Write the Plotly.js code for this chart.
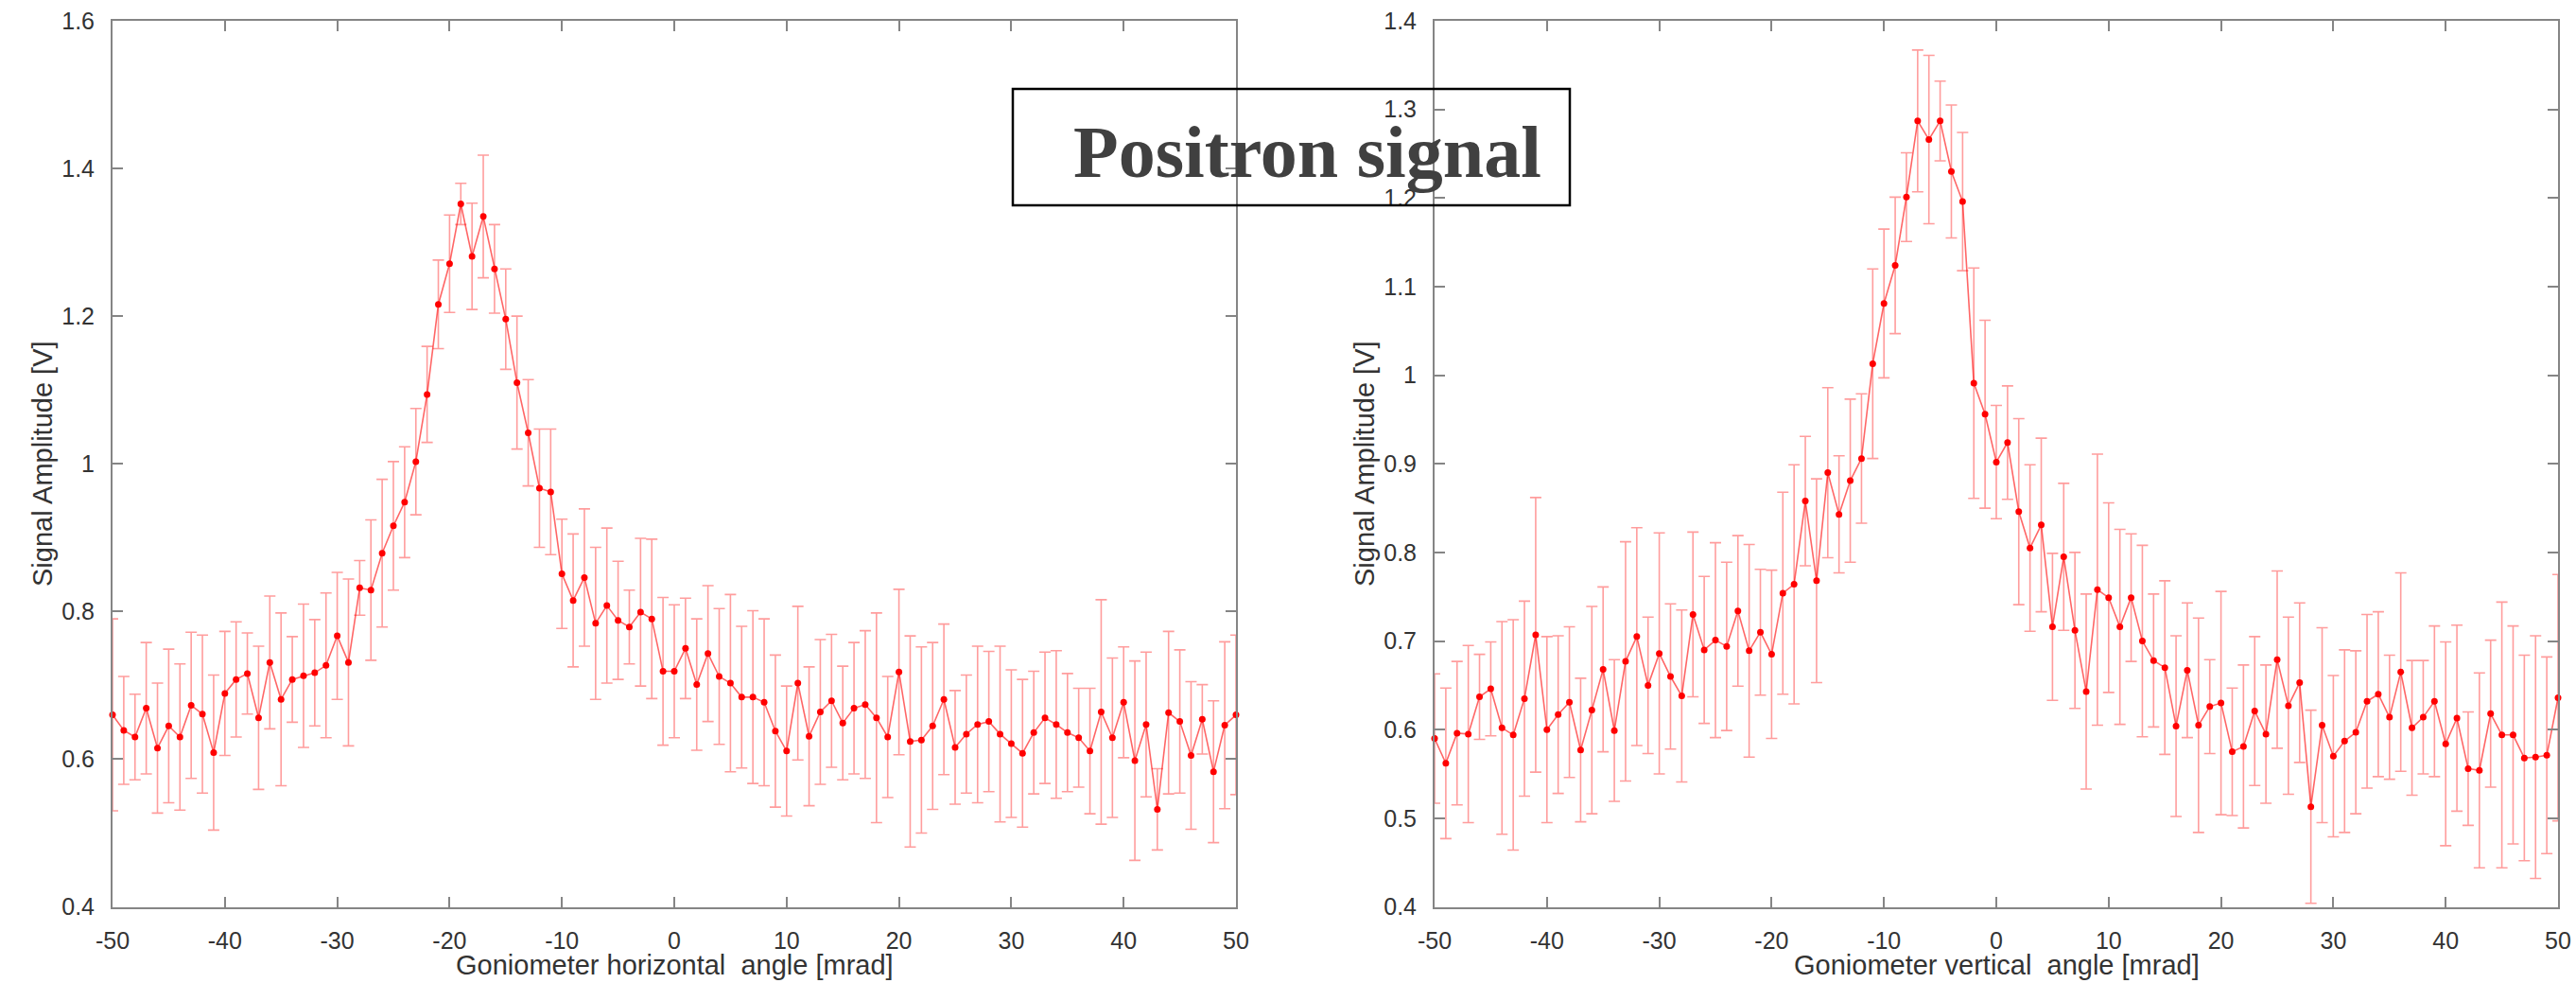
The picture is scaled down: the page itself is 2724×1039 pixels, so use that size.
<!DOCTYPE html>
<html>
<head>
<meta charset="utf-8">
<script src="https://cdn.plot.ly/plotly-3.0.1.min.js"></script>
<style>html,body{margin:0;padding:0;background:#fff;}#chart{width:2724px;height:1039px;}</style>
</head>
<body>
<div id="chart"></div>
<script>
// Goniometer angle [mrad]
const angles = [-50,-49,-48,-47,-46,-45,-44,-43,-42,-41,-40,-39,-38,-37,-36,-35,-34,-33,-32,-31,-30,-29,-28,-27,-26,-25,-24,-23,-22,-21,-20,-19,-18,-17,-16,-15,-14,-13,-12,-11,-10,-9,-8,-7,-6,-5,-4,-3,-2,-1,0,1,2,3,4,5,6,7,8,9,10,11,12,13,14,15,16,17,18,19,20,21,22,23,24,25,26,27,28,29,30,31,32,33,34,35,36,37,38,39,40,41,42,43,44,45,46,47,48,49,50];

// Horizontal scan: signal amplitude [V] and error
const horizSignal = [0.660,0.639,0.630,0.669,0.615,0.645,0.630,0.673,0.661,0.609,0.689,0.708,0.716,0.656,0.731,0.681,0.708,0.713,0.717,0.727,0.767,0.731,0.832,0.829,0.879,0.916,0.948,1.003,1.094,1.216,1.271,1.352,1.281,1.335,1.264,1.196,1.110,1.042,0.967,0.962,0.851,0.815,0.846,0.784,0.808,0.788,0.779,0.799,0.790,0.719,0.719,0.750,0.701,0.743,0.712,0.703,0.684,0.684,0.677,0.638,0.611,0.703,0.631,0.664,0.679,0.649,0.669,0.674,0.656,0.630,0.718,0.624,0.626,0.645,0.681,0.616,0.634,0.647,0.651,0.634,0.621,0.608,0.636,0.656,0.647,0.636,0.629,0.611,0.664,0.629,0.677,0.598,0.647,0.532,0.663,0.651,0.605,0.654,0.583,0.646,0.660];
const horizError = [0.130,0.073,0.058,0.089,0.088,0.104,0.099,0.099,0.107,0.105,0.084,0.078,0.055,0.097,0.090,0.117,0.058,0.097,0.072,0.098,0.086,0.113,0.037,0.095,0.100,0.087,0.075,0.072,0.065,0.060,0.066,0.028,0.072,0.083,0.060,0.068,0.090,0.072,0.080,0.085,0.074,0.090,0.093,0.103,0.105,0.080,0.050,0.100,0.108,0.100,0.090,0.068,0.089,0.092,0.092,0.120,0.096,0.117,0.113,0.103,0.088,0.104,0.094,0.098,0.090,0.077,0.089,0.100,0.142,0.082,0.112,0.143,0.126,0.113,0.102,0.077,0.080,0.106,0.095,0.119,0.100,0.100,0.083,0.089,0.100,0.080,0.067,0.085,0.152,0.108,0.075,0.135,0.098,0.055,0.110,0.097,0.100,0.047,0.096,0.113,0.108];

// Vertical scan: signal amplitude [V] and error
const vertSignal = [0.590,0.562,0.596,0.595,0.637,0.646,0.602,0.594,0.635,0.707,0.600,0.617,0.631,0.577,0.622,0.668,0.599,0.677,0.705,0.650,0.686,0.660,0.638,0.730,0.690,0.701,0.694,0.734,0.689,0.710,0.685,0.754,0.764,0.858,0.768,0.890,0.843,0.881,0.906,1.013,1.081,1.124,1.201,1.287,1.266,1.287,1.230,1.196,0.991,0.956,0.902,0.924,0.846,0.805,0.831,0.716,0.795,0.712,0.643,0.758,0.749,0.716,0.749,0.700,0.678,0.670,0.604,0.667,0.605,0.626,0.630,0.575,0.581,0.621,0.595,0.679,0.627,0.653,0.513,0.605,0.570,0.587,0.597,0.632,0.640,0.614,0.665,0.602,0.614,0.632,0.584,0.613,0.556,0.554,0.618,0.594,0.594,0.568,0.569,0.571,0.636];
const vertError = [0.073,0.085,0.081,0.100,0.048,0.053,0.120,0.130,0.110,0.155,0.105,0.089,0.085,0.081,0.117,0.093,0.080,0.135,0.123,0.077,0.136,0.082,0.097,0.093,0.083,0.110,0.095,0.085,0.120,0.071,0.095,0.114,0.135,0.073,0.115,0.096,0.066,0.092,0.073,0.107,0.084,0.077,0.050,0.080,0.095,0.045,0.075,0.078,0.130,0.106,0.064,0.064,0.105,0.094,0.098,0.083,0.083,0.088,0.110,0.153,0.107,0.110,0.072,0.108,0.075,0.098,0.102,0.076,0.121,0.053,0.126,0.072,0.092,0.084,0.078,0.100,0.100,0.090,0.109,0.110,0.091,0.103,0.092,0.098,0.093,0.070,0.112,0.076,0.064,0.085,0.115,0.105,0.064,0.110,0.083,0.150,0.123,0.116,0.137,0.111,0.139];

// Tick labels
const xTickVals = [-50,-40,-30,-20,-10,0,10,20,30,40,50];
const xTickText = ['-50','-40','-30','-20','-10','0','10','20','30','40','50'];
const yLeftTickVals = [0.4,0.6,0.8,1.0,1.2,1.4,1.6];
const yLeftTickText = ['0.4','0.6','0.8','1','1.2','1.4','1.6'];
const yRightTickVals = [0.4,0.5,0.6,0.7,0.8,0.9,1.0,1.1,1.2,1.3,1.4];
const yRightTickText = ['0.4','0.5','0.6','0.7','0.8','0.9','1','1.1','1.2','1.3','1.4'];

// Text
const chartTitle = 'Positron signal';
const xTitleLeft = 'Goniometer horizontal\u00a0 angle [mrad]';
const xTitleRight = 'Goniometer vertical\u00a0 angle [mrad]';
const yTitle = 'Signal Amplitude [V]';

const W = 2724, H = 1039;
const px = v => v / W;
const py = v => 1 - v / H;

function trace(y, err, xa, ya) {
  return {
    type: 'scatter', mode: 'lines+markers',
    x: angles, y: y, xaxis: xa, yaxis: ya,
    cliponaxis: false,
    line: {color: 'rgba(255,0,0,0.6)', width: 1.6},
    marker: {color: 'rgb(255,0,0)', size: 7},
    error_y: {type: 'data', array: err, visible: true, color: 'rgba(255,60,60,0.5)', thickness: 1.6, width: 6},
    hoverinfo: 'x+y'
  };
}

const tickFont = {family: 'Liberation Sans, Arial, sans-serif', size: 25, color: '#333'};
const axisCommon = {
  showline: true, linecolor: '#858585', linewidth: 2, mirror: 'allticks',
  ticks: 'inside', ticklen: 11, tickwidth: 2, tickcolor: '#858585',
  showgrid: false, zeroline: false, tickfont: tickFont, fixedrange: true
};

const yDom = [1 - 958.5 / H, 1 - 22 / H];

const layout = {
  width: W, height: H,
  margin: {l: 0, r: 0, t: 0, b: 0, pad: 0},
  paper_bgcolor: '#fff', plot_bgcolor: '#fff',
  showlegend: false,
  xaxis: Object.assign({}, axisCommon, {domain: [px(119), px(1307)], range: [-50, 50], anchor: 'y', tickmode: 'array', tickvals: xTickVals, ticktext: xTickText, ticklabelstandoff: 12}),
  yaxis: Object.assign({}, axisCommon, {domain: yDom, range: [0.4, 1.6], anchor: 'x', tickmode: 'array', tickvals: yLeftTickVals, ticktext: yLeftTickText, ticklabelstandoff: 12}),
  xaxis2: Object.assign({}, axisCommon, {domain: [px(1517), px(2705)], range: [-50, 50], anchor: 'y2', tickmode: 'array', tickvals: xTickVals, ticktext: xTickText, ticklabelstandoff: 12}),
  yaxis2: Object.assign({}, axisCommon, {domain: yDom, range: [0.4, 1.4], anchor: 'x2', tickmode: 'array', tickvals: yRightTickVals, ticktext: yRightTickText, ticklabelstandoff: 12}),
  shapes: [{
    type: 'rect', xref: 'paper', yref: 'paper',
    x0: px(1071), x1: px(1660), y0: py(217), y1: py(94),
    line: {color: '#000', width: 2.5}, fillcolor: 'rgba(0,0,0,0)', layer: 'above'
  }],
  annotations: [
    {xref: 'paper', yref: 'paper', x: px(1133), y: py(160), xanchor: 'left', yanchor: 'middle', showarrow: false,
     text: '<b>' + chartTitle + '</b>', font: {family: 'Liberation Serif, Times New Roman, serif', size: 78, color: '#404040'}},
    {xref: 'paper', yref: 'paper', x: px(713), y: py(1020), xanchor: 'center', yanchor: 'middle', showarrow: false,
     text: xTitleLeft, font: {family: 'Liberation Sans, Arial, sans-serif', size: 29, color: '#333'}},
    {xref: 'paper', yref: 'paper', x: px(2111), y: py(1020), xanchor: 'center', yanchor: 'middle', showarrow: false,
     text: xTitleRight, font: {family: 'Liberation Sans, Arial, sans-serif', size: 29, color: '#333'}},
    {xref: 'paper', yref: 'paper', x: px(45), y: py(490), xanchor: 'center', yanchor: 'middle', showarrow: false, textangle: -90,
     text: yTitle, font: {family: 'Liberation Sans, Arial, sans-serif', size: 29, color: '#333'}},
    {xref: 'paper', yref: 'paper', x: px(1443), y: py(490), xanchor: 'center', yanchor: 'middle', showarrow: false, textangle: -90,
     text: yTitle, font: {family: 'Liberation Sans, Arial, sans-serif', size: 29, color: '#333'}}
  ]
};

Plotly.newPlot('chart', [
  trace(horizSignal, horizError, 'x', 'y'),
  trace(vertSignal, vertError, 'x2', 'y2')
], layout, {staticPlot: true, displayModeBar: false});
</script>
</body>
</html>
